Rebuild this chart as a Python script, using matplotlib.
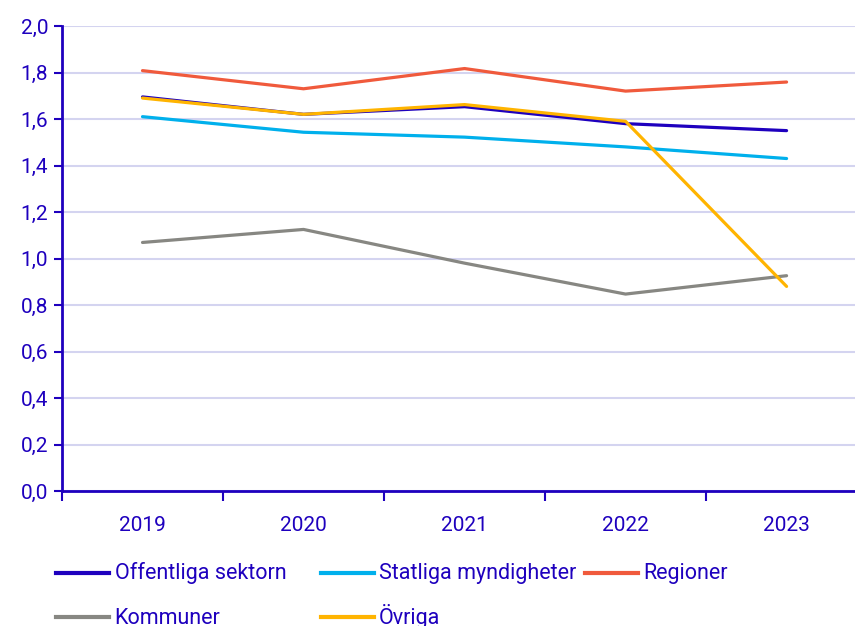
import matplotlib
matplotlib.use("Agg")
import matplotlib.pyplot as plt
from matplotlib.lines import Line2D

years = ["2019", "2020", "2021", "2022", "2023"]
offentliga = [1.695, 1.62, 1.653, 1.58, 1.55]
statliga = [1.61, 1.543, 1.522, 1.48, 1.43]
regioner = [1.808, 1.73, 1.817, 1.72, 1.759]
kommuner = [1.069, 1.125, 0.98, 0.847, 0.926]
ovriga = [1.69, 1.62, 1.662, 1.59, 0.88]

series_names = ["Offentliga sektorn", "Statliga myndigheter", "Regioner", "Kommuner", "Övriga"]
series_vals = [offentliga, statliga, regioner, kommuner, ovriga]
colors = ["#1e00be", "#00b0ec", "#f05a3c", "#878782", "#ffb400"]
yticks = [0.0, 0.2, 0.4, 0.6, 0.8, 1.0, 1.2, 1.4, 1.6, 1.8, 2.0]

TXT = "#1e00be"
plt.rcParams['font.family'] = ['Roboto', 'DejaVu Sans']
FS = 15
LFS = 15.5

W, H = 855, 626
fig = plt.figure(figsize=(W / 100, H / 100), dpi=100)
ax = fig.add_axes([62/W, (H-491)/H, 1 - 62/W, (491-26)/H])

x = list(range(len(years)))
draw_order = [3, 1, 2, 0, 4]
for i in draw_order:
    ax.plot(x, series_vals[i], color=colors[i], lw=2.3, solid_capstyle='round', zorder=3 + i * 0.1)

ax.set_yticks(yticks)
ax.set_yticklabels([f"{v:.1f}".replace(".", ",") for v in yticks], fontsize=FS, color=TXT)
ax.yaxis.grid(True, color="#d4d4f0", lw=1.5, zorder=0)
ax.set_axisbelow(True)

ax.set_xticks([i - 0.5 for i in range(len(years) + 1)])
ax.set_xticklabels([])
ax.set_xticks(x, minor=True)
ax.set_xticklabels(years, minor=True, fontsize=FS, color=TXT)
ax.tick_params(axis='x', which='major', length=7, width=1.5, color=TXT, direction='out')
ax.tick_params(axis='x', which='minor', length=0, pad=18)
ax.tick_params(axis='y', length=6, width=1.5, color=TXT, pad=4)
ax.set_xlim(-0.5, 4.425)
ax.set_ylim(0, 2.0)

for s in ['top', 'right']:
    ax.spines[s].set_visible(False)
for s in ['left', 'bottom']:
    ax.spines[s].set_color(TXT)
    ax.spines[s].set_linewidth(2)
ax.spines['bottom'].set_zorder(5)

# legend (row-major, 3 columns), positioned in pixels
legend_rows = [[0, 1, 2], [3, 4]]
col_x0 = 56
col_w = 264.5
row_line_y = [572.7, 616.7]
row_text_y = [579.5, 623.7]
for r, idxs in enumerate(legend_rows):
    for c, i in enumerate(idxs):
        x0 = col_x0 + c * col_w
        fig.add_artist(Line2D([x0 / W, (x0 + 53) / W], [1 - row_line_y[r] / H] * 2,
                              color=colors[i], lw=3, transform=fig.transFigure))
        fig.text((x0 + 58.5) / W, 1 - row_text_y[r] / H, series_names[i], fontsize=LFS,
                 color=TXT, va='baseline', ha='left')

fig.savefig("out.png", dpi=100)
